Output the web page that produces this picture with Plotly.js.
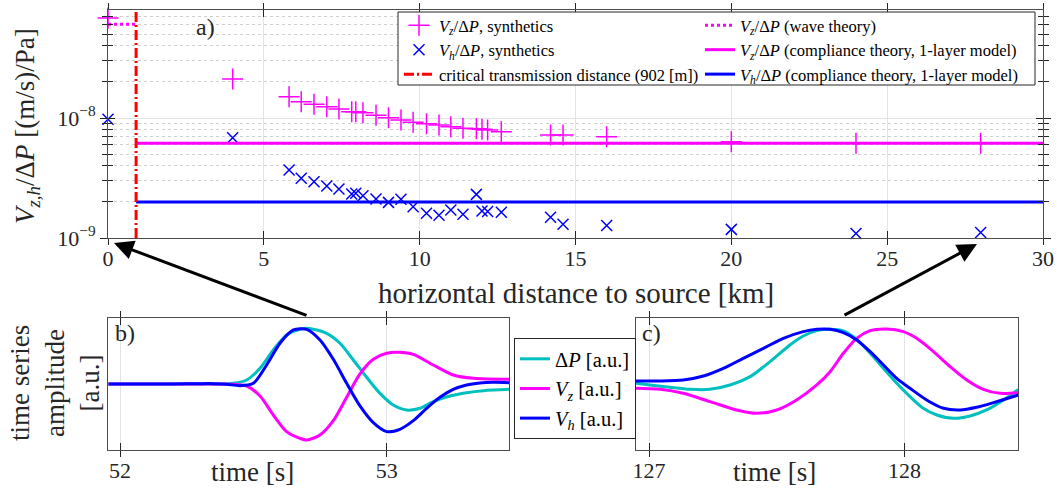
<!DOCTYPE html>
<html>
<head>
<meta charset="utf-8">
<script src="https://cdn.plot.ly/plotly-3.0.1.min.js"></script>
<style>html,body{margin:0;padding:0;background:#fff;}#chart{width:1057px;height:491px;}</style>
</head>
<body>
<div id="chart"></div>
<script>
// ---------- main panel a) data ----------
const distKm = [0, 4, 5.81, 6.2, 6.61, 7.02, 7.41, 7.82, 7.95, 8.18, 8.6, 9.0, 9.4, 9.79, 10.22, 10.62, 11.0, 11.39, 11.82, 12.0, 12.18, 12.62, 14.2, 14.6, 16.0, 20.0, 24.0, 28.0];
const vzSynth = [6.8e-8, 2.11e-8, 1.505e-8, 1.367e-8, 1.30e-8, 1.242e-8, 1.189e-8, 1.128e-8, 1.128e-8, 1.107e-8, 1.053e-8, 1.006e-8, 9.62e-9, 9.21e-9, 8.96e-9, 8.74e-9, 8.46e-9, 8.20e-9, 8.14e-9, 8.05e-9, 7.94e-9, 7.69e-9, 7.21e-9, 7.21e-9, 6.98e-9, 6.35e-9, 6.15e-9, 6.15e-9];
const vhSynth = [9.75e-9, 6.85e-9, 3.69e-9, 3.15e-9, 2.94e-9, 2.71e-9, 2.56e-9, 2.33e-9, 2.36e-9, 2.25e-9, 2.11e-9, 1.98e-9, 2.10e-9, 1.82e-9, 1.61e-9, 1.55e-9, 1.71e-9, 1.58e-9, 2.31e-9, 1.68e-9, 1.66e-9, 1.64e-9, 1.49e-9, 1.30e-9, 1.27e-9, 1.18e-9, 1.09e-9, 1.11e-9];
const criticalKm = 0.902;
const waveX = [0, criticalKm];
const vzWave = [6.04e-8, 6.04e-8];
const compX = [criticalKm, 30];
const vzComp = [6.15e-9, 6.15e-9];
const vhComp = [2.0e-9, 2.0e-9];
const critX = [criticalKm, criticalKm];
const critY = [1e-9, 7.94e-8];
const xTicks = [0, 5, 10, 15, 20, 25, 30];
const yTicks = [1e-9, 1e-8];
const yTickText = ['10<sup>−9</sup>', '10<sup>−8</sup>'];
const yMinor = [2e-9,3e-9,4e-9,5e-9,6e-9,7e-9,8e-9,9e-9,2e-8,3e-8,4e-8,5e-8,6e-8,7e-8];

// ---------- panel b) time series (near source) ----------
const tB_dp = [51.956,52.175,52.3625,52.425,52.475,52.525,52.575,52.625,52.675,52.7,52.725,52.775,52.825,52.875,52.925,52.975,53.025,53.075,53.125,53.175,53.2375,53.3,53.3625,53.459];
const aB_dp = [0,0,0,0.012,0.072,0.281,0.611,0.880,0.982,1.0,0.982,0.910,0.731,0.431,0.120,-0.168,-0.377,-0.467,-0.437,-0.317,-0.216,-0.156,-0.120,-0.096];
const tB_vh = [51.956,52.1,52.2,52.3,52.35,52.4,52.45,52.5,52.55,52.6,52.65,52.7,52.75,52.8,52.85,52.9,52.95,53.0,53.05,53.1,53.15,53.2,53.25,53.3,53.35,53.4,53.459];
const aB_vh = [0,0,0,0.006,0.006,-0.006,-0.030,0.012,0.341,0.731,0.970,0.982,0.790,0.443,0.012,-0.395,-0.695,-0.856,-0.814,-0.659,-0.437,-0.240,-0.096,-0.018,0.018,0.030,0.024];
const tB_vz = [51.956,52.3625,52.425,52.475,52.525,52.575,52.625,52.675,52.7,52.75,52.8,52.85,52.9,52.95,53.0,53.05,53.1,53.175,53.25,53.325,53.459];
const aB_vz = [0,0,-0.006,-0.036,-0.216,-0.557,-0.856,-0.976,-1.006,-0.916,-0.659,-0.240,0.180,0.443,0.551,0.569,0.533,0.341,0.162,0.102,0.084];

// ---------- panel c) time series (far from source) ----------
const tC_dp = [126.949,127.004,127.082,127.161,127.239,127.317,127.396,127.474,127.552,127.604,127.657,127.709,127.761,127.813,127.866,127.918,127.970,128.022,128.074,128.127,128.192,128.257,128.322,128.388,128.446];
const aC_dp = [0.012,-0.018,-0.060,-0.096,-0.096,-0.018,0.132,0.401,0.701,0.862,0.958,0.982,0.952,0.802,0.551,0.281,0.012,-0.228,-0.437,-0.557,-0.617,-0.575,-0.467,-0.287,-0.096];
const tC_vh = [126.949,127.043,127.134,127.213,127.291,127.369,127.448,127.526,127.604,127.657,127.709,127.761,127.813,127.866,127.918,127.970,128.022,128.087,128.153,128.218,128.283,128.349,128.446];
const aC_vh = [0.054,0.054,0.072,0.144,0.281,0.461,0.641,0.820,0.940,0.982,0.982,0.922,0.790,0.581,0.341,0.102,-0.078,-0.287,-0.437,-0.467,-0.419,-0.335,-0.198];
const tC_vz = [126.949,127.043,127.134,127.239,127.343,127.422,127.5,127.578,127.657,127.709,127.761,127.813,127.866,127.931,127.996,128.048,128.114,128.179,128.244,128.309,128.375,128.446];
const aC_vz = [-0.078,-0.096,-0.168,-0.317,-0.467,-0.527,-0.467,-0.287,-0.018,0.221,0.551,0.820,0.958,0.988,0.940,0.820,0.581,0.311,0.072,-0.096,-0.168,-0.156];

const MAG = '#ff00ff', BLU = '#0000ff', CYA = '#00bfbf', RED = '#ff0000';
const FONT = 'Liberation Serif, Times New Roman, serif';
const VZ = '<i>V<sub>z</sub></i>/Δ<i>P</i>';
const VH = '<i>V<sub>h</sub></i>/Δ<i>P</i>';
const SPL = {width: 3, shape: 'spline', smoothing: 0.8};

const traces = [
  {x: distKm, y: vzSynth, type: 'scatter', mode: 'markers', name: VZ + ', synthetics', legend: 'legend',
   marker: {symbol: 'cross-thin-open', size: 15, color: MAG, line: {color: MAG, width: 1.5}}, cliponaxis: false},
  {x: distKm, y: vhSynth, type: 'scatter', mode: 'markers', name: VH + ', synthetics', legend: 'legend',
   marker: {symbol: 'x-thin-open', size: 11, color: BLU, line: {color: BLU, width: 1.5}}, cliponaxis: false},
  {x: waveX, y: vzWave, type: 'scatter', mode: 'lines', name: VZ + ' (wave theory)', legend: 'legend3',
   line: {color: MAG, width: 3, dash: 'dot'}},
  {x: compX, y: vzComp, type: 'scatter', mode: 'lines', name: VZ + ' (compliance theory, 1-layer model)', legend: 'legend3',
   line: {color: MAG, width: 3}},
  {x: compX, y: vhComp, type: 'scatter', mode: 'lines', name: VH + ' (compliance theory, 1-layer model)', legend: 'legend3',
   line: {color: BLU, width: 3}},
  {x: critX, y: critY, type: 'scatter', mode: 'lines', name: 'critical transmission distance (902 [m])', legend: 'legend',
   line: {color: RED, width: 3, dash: '10px,3px,2px,3px'}},
  // panel b
  {x: tB_dp, y: aB_dp, xaxis: 'x2', yaxis: 'y2', mode: 'lines', name: 'Δ<i>P</i> [a.u.]', legend: 'legend2',
   line: Object.assign({color: CYA}, SPL)},
  {x: tB_vz, y: aB_vz, xaxis: 'x2', yaxis: 'y2', mode: 'lines', name: '<i>V<sub>z</sub></i> [a.u.]', legend: 'legend2',
   line: Object.assign({color: MAG}, SPL)},
  {x: tB_vh, y: aB_vh, xaxis: 'x2', yaxis: 'y2', mode: 'lines', name: '<i>V<sub>h</sub></i> [a.u.]', legend: 'legend2',
   line: Object.assign({color: BLU}, SPL)},
  // panel c
  {x: tC_dp, y: aC_dp, xaxis: 'x3', yaxis: 'y3', mode: 'lines', showlegend: false, line: Object.assign({color: CYA}, SPL)},
  {x: tC_vz, y: aC_vz, xaxis: 'x3', yaxis: 'y3', mode: 'lines', showlegend: false, line: Object.assign({color: MAG}, SPL)},
  {x: tC_vh, y: aC_vh, xaxis: 'x3', yaxis: 'y3', mode: 'lines', showlegend: false, line: Object.assign({color: BLU}, SPL)},
  // dummy traces to host overlay axes with inward ticks
  {x: [null], y: [null], xaxis: 'x4', yaxis: 'y4', showlegend: false, hoverinfo: 'skip'},
  {x: [null], y: [null], xaxis: 'x5', yaxis: 'y5', showlegend: false, hoverinfo: 'skip'},
  {x: [null], y: [null], xaxis: 'x6', yaxis: 'y6', showlegend: false, hoverinfo: 'skip'}
];

const px = v => v / 1057, py = v => 1 - v / 491;
const LINEC = '#4d4d4d', TICKC = '#262626', GRIDC = '#e3e3e3';
const dMainX = [px(108), px(1043)], dMainY = [py(238), py(10)];
const dBX = [px(108.3), px(509)], dCX = [px(636), px(1018.3)], dSubY = [py(450), py(318.3)];
const rB = [51.956, 53.459], rC = [126.949, 128.446], rA = [-1.186, 1.18];

function overlayX(over, anchor, range, dom, vals) {
  return {overlaying: over, anchor: anchor, domain: dom, range: range, tickmode: 'array', tickvals: vals,
    ticks: 'inside', ticklen: 7, tickcolor: TICKC, mirror: 'ticks', showline: false,
    showticklabels: false, showgrid: false, zeroline: false};
}
function note(text, x, y, size, extra) {
  return Object.assign({text: text, x: px(x), y: py(y), xref: 'paper', yref: 'paper', showarrow: false,
    xanchor: 'center', yanchor: 'middle', font: {size: size}}, extra || {});
}

const layout = {
  width: 1057, height: 491, autosize: false,
  margin: {l: 0, r: 0, t: 0, b: 0, pad: 0, autoexpand: false},
  paper_bgcolor: '#fff', plot_bgcolor: '#fff',
  font: {family: FONT, color: '#262626', size: 20},
  showlegend: true,
  xaxis: {domain: dMainX, anchor: 'y', range: [0, 30], tickmode: 'array', tickvals: xTicks,
    ticks: 'outside', ticklen: 6, tickcolor: TICKC, showline: true, linecolor: LINEC, mirror: 'ticks',
    showgrid: true, gridcolor: GRIDC, zeroline: false, tickfont: {size: 22}, ticklabelstandoff: -5},
  yaxis: {domain: dMainY, anchor: 'x', type: 'log', range: [-9, -7.1], tickmode: 'array', tickvals: yTicks,
    ticktext: yTickText, ticks: 'outside', ticklen: 7, tickcolor: TICKC, showline: true, linecolor: LINEC,
    mirror: 'ticks', showgrid: true, gridcolor: GRIDC, zeroline: false, tickfont: {size: 22},
    minor: {tickmode: 'array', tickvals: yMinor, ticks: 'outside', ticklen: 5, tickcolor: TICKC,
      showgrid: true, gridcolor: '#cfcfcf', griddash: 'dot', gridwidth: 1}},
  xaxis4: overlayX('x', 'y', [0, 30], dMainX, xTicks),
  yaxis4: {overlaying: 'y', anchor: 'x', domain: dMainY, type: 'log', range: [-9, -7.1], tickmode: 'array',
    tickvals: yTicks, ticks: 'inside', ticklen: 7, tickcolor: TICKC, mirror: 'ticks', showline: false,
    showticklabels: false, showgrid: false, zeroline: false,
    minor: {tickmode: 'array', tickvals: yMinor, ticks: 'inside', ticklen: 5, tickcolor: TICKC, showgrid: false}},
  xaxis2: {domain: dBX, anchor: 'y2', range: rB, tickmode: 'array', tickvals: [52, 53],
    ticks: 'outside', ticklen: 6, tickcolor: TICKC, showline: true, linecolor: LINEC, mirror: 'ticks',
    showgrid: true, gridcolor: GRIDC, zeroline: false, tickfont: {size: 22}, ticklabelstandoff: -5},
  yaxis2: {domain: dSubY, anchor: 'x2', range: rA, showticklabels: false, ticks: '', showline: true,
    linecolor: LINEC, mirror: true, showgrid: false, zeroline: false},
  xaxis5: overlayX('x2', 'y2', rB, dBX, [52, 53]),
  yaxis5: {overlaying: 'y2', anchor: 'x2', domain: dSubY, range: rA, visible: false},
  xaxis3: {domain: dCX, anchor: 'y3', range: rC, tickmode: 'array', tickvals: [127, 128],
    ticks: 'outside', ticklen: 6, tickcolor: TICKC, showline: true, linecolor: LINEC, mirror: 'ticks',
    showgrid: true, gridcolor: GRIDC, zeroline: false, tickfont: {size: 22}, ticklabelstandoff: -5},
  yaxis3: {domain: dSubY, anchor: 'x3', range: rA, showticklabels: false, ticks: '', showline: true,
    linecolor: LINEC, mirror: true, showgrid: false, zeroline: false},
  xaxis6: overlayX('x3', 'y3', rC, dCX, [127, 128]),
  yaxis6: {overlaying: 'y3', anchor: 'x3', domain: dSubY, range: rA, visible: false},
  legend: {xref: 'container', yref: 'container', x: px(399), y: py(8), xanchor: 'left', yanchor: 'top',
    orientation: 'v', bgcolor: 'rgba(0,0,0,0)', borderwidth: 0, font: {size: 16.5, family: FONT, color: '#000'},
    itemwidth: 30, tracegroupgap: 0},
  legend3: {xref: 'container', yref: 'container', x: px(700), y: py(8), xanchor: 'left', yanchor: 'top',
    orientation: 'v', bgcolor: 'rgba(0,0,0,0)', borderwidth: 0, font: {size: 16.5, family: FONT, color: '#000'},
    itemwidth: 30, tracegroupgap: 0},
  legend2: {xref: 'container', yref: 'container', x: px(514), y: py(338), xanchor: 'left', yanchor: 'top',
    orientation: 'v', bgcolor: '#fff', bordercolor: '#262626', borderwidth: 1,
    font: {size: 20.5, family: FONT, color: '#000'}, itemwidth: 30},
  shapes: [
    {type: 'rect', xref: 'paper', yref: 'paper', x0: px(398), x1: px(1035), y0: py(85), y1: py(12),
     line: {color: '#262626', width: 1}, fillcolor: '#fff', layer: 'above'}
  ],
  annotations: [
    note('<i>V</i><sub><i>z,h</i></sub>/Δ<i>P</i> [(m/s)/Pa]', 27, 126, 27, {textangle: -90}),
    note('horizontal distance to source [km]', 575.5, 293, 29),
    note('a)', 205, 27, 24),
    note('b)', 125, 333, 24),
    note('c)', 651, 333, 24),
    note('time [s]', 252.5, 472, 27),
    note('time [s]', 774.5, 472, 27),
    note('time series<br>amplitude<br>[a.u.]', 55, 383, 27, {textangle: -90}),
    {text: '', x: px(114), y: py(243), xref: 'paper', yref: 'paper', showarrow: true, ax: 194, ay: 73,
     arrowhead: 2, arrowsize: 1.3, arrowwidth: 3, arrowcolor: '#000', standoff: 0},
    {text: '', x: px(977), y: py(244), xref: 'paper', yref: 'paper', showarrow: true, ax: -134, ay: 72,
     arrowhead: 2, arrowsize: 1.3, arrowwidth: 3, arrowcolor: '#000', standoff: 0}
  ]
};

Plotly.newPlot('chart', traces, layout, {displayModeBar: false, staticPlot: true});
</script>
</body>
</html>
